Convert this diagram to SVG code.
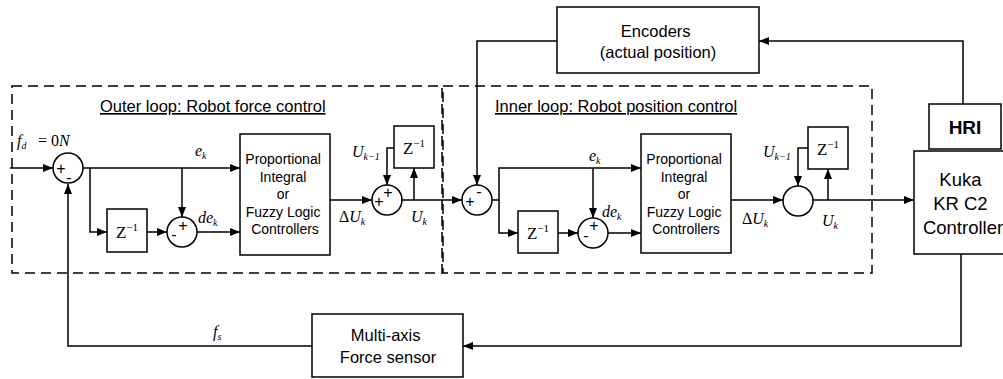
<svg xmlns="http://www.w3.org/2000/svg" width="1003" height="379" viewBox="0 0 1003 379">
<style>
.box{fill:#fff;stroke:#000;stroke-width:1.5}
.sum{fill:#fff;stroke:#000;stroke-width:1.5}
.dash{fill:none;stroke:#000;stroke-width:1.5;stroke-dasharray:10 6}
.ln{fill:none;stroke:#000;stroke-width:1.5}
.t{font-family:"Liberation Sans",Arial,sans-serif;fill:#000}
.m{font-family:"Liberation Serif","Times New Roman",serif;font-style:italic;fill:#000}
.z{font-family:"Liberation Serif","Times New Roman",serif;fill:#000;font-size:17px}
.sg{font-family:"Liberation Sans",Arial,sans-serif;font-size:16px;fill:#000}
</style>
<defs>
<marker id="ah" markerUnits="userSpaceOnUse" markerWidth="11" markerHeight="8" refX="10" refY="4" orient="auto">
<path d="M0,0 L10,4 L0,8 z" fill="#000"/>
</marker>
</defs>
<rect width="1003" height="379" fill="#fff"/>

<g id="outer-loop">
<rect class="dash" x="12" y="86" width="430" height="187"/>
<text class="t" x="100" y="112" font-size="16.5" text-decoration="underline">Outer loop: Robot force control</text>
</g>
<g id="inner-loop">
<rect class="dash" x="443" y="86" width="429" height="187"/>
<text class="t" x="495" y="112" font-size="16.5" text-decoration="underline">Inner loop: Robot position control</text>
</g>

<g id="connectors">
<path class="ln" d="M10,168 H53" marker-end="url(#ah)"/>
<path class="ln" d="M83,168 H240" marker-end="url(#ah)"/>
<path class="ln" d="M90,168 V232 H107" marker-end="url(#ah)"/>
<path class="ln" d="M147,232 H167" marker-end="url(#ah)"/>
<path class="ln" d="M182,168 V217" marker-end="url(#ah)"/>
<path class="ln" d="M197,232 H240" marker-end="url(#ah)"/>
<path class="ln" d="M330,200 H372" marker-end="url(#ah)"/>
<path class="ln" d="M414,200 V168" marker-end="url(#ah)"/>
<path class="ln" d="M394,148 H387 V185" marker-end="url(#ah)"/>
<path class="ln" d="M402,200 H462" marker-end="url(#ah)"/>
<path class="ln" d="M557,41 H477 V185" marker-end="url(#ah)"/>
<path class="ln" d="M492,200 H499 V168 H641" marker-end="url(#ah)"/>
<path class="ln" d="M499,200 V233 H518" marker-end="url(#ah)"/>
<path class="ln" d="M558,233 H578" marker-end="url(#ah)"/>
<path class="ln" d="M593,168 V218" marker-end="url(#ah)"/>
<path class="ln" d="M608,233 H641" marker-end="url(#ah)"/>
<path class="ln" d="M731,200 H783" marker-end="url(#ah)"/>
<path class="ln" d="M828,200 V169" marker-end="url(#ah)"/>
<path class="ln" d="M808,148 H798 V186" marker-end="url(#ah)"/>
<path class="ln" d="M813,200 H914" marker-end="url(#ah)"/>
<path class="ln" d="M963,104 V41 H759" marker-end="url(#ah)"/>
<path class="ln" d="M961,254 V346 H463" marker-end="url(#ah)"/>
<path class="ln" d="M312,346 H68 V184" marker-end="url(#ah)"/>
</g>

<g id="sum1">
<circle class="sum" cx="68" cy="168" r="15"/>
<text class="sg" x="61" y="174" text-anchor="middle">+</text>
<text class="sg" x="69" y="183" text-anchor="middle">-</text>
</g>
<g id="z1">
<rect class="box" x="107" y="209" width="40" height="43"/>
<text class="z" x="127" y="238" text-anchor="middle">Z<tspan font-size="11" dy="-7">−1</tspan></text>
</g>
<g id="sum2">
<circle class="sum" cx="182" cy="232" r="15"/>
<text class="sg" x="174" y="240" text-anchor="middle">-</text>
<text class="sg" x="183" y="231" text-anchor="middle">+</text>
</g>
<g id="pi1">
<rect class="box" x="240" y="134" width="90" height="121"/>
<text class="t" font-size="14" text-anchor="middle">
<tspan x="285" y="164">Proportional</tspan>
<tspan x="285" y="182">Integral</tspan>
<tspan x="285" y="199">or</tspan>
<tspan x="285" y="217">Fuzzy Logic</tspan>
<tspan x="285" y="234">Controllers</tspan>
</text>
</g>
<g id="sum3">
<circle class="sum" cx="387" cy="200" r="15"/>
<text class="sg" x="379" y="207" text-anchor="middle">+</text>
<text class="sg" x="388" y="198" text-anchor="middle">+</text>
</g>
<g id="z2">
<rect class="box" x="394" y="126" width="40" height="42"/>
<text class="z" x="414" y="154" text-anchor="middle">Z<tspan font-size="11" dy="-7">−1</tspan></text>
</g>
<g id="sum4">
<circle class="sum" cx="477" cy="200" r="15"/>
<text class="sg" x="470" y="207" text-anchor="middle">+</text>
<text class="sg" x="479" y="197" text-anchor="middle">-</text>
</g>
<g id="z3">
<rect class="box" x="518" y="211" width="40" height="42"/>
<text class="z" x="538" y="239" text-anchor="middle">Z<tspan font-size="11" dy="-7">−1</tspan></text>
</g>
<g id="sum5">
<circle class="sum" cx="593" cy="233" r="15"/>
<text class="sg" x="586" y="241" text-anchor="middle">-</text>
<text class="sg" x="594" y="231" text-anchor="middle">+</text>
</g>
<g id="pi2">
<rect class="box" x="641" y="134" width="90" height="119"/>
<text class="t" font-size="14" text-anchor="middle">
<tspan x="686" y="164">Proportional</tspan>
<tspan x="686" y="182">Integral</tspan>
<tspan x="686" y="199">or</tspan>
<tspan x="686" y="217">Fuzzy Logic</tspan>
<tspan x="686" y="234">Controllers</tspan>
</text>
</g>
<g id="sum6">
<circle class="sum" cx="798" cy="201" r="15"/>
</g>
<g id="z4">
<rect class="box" x="808" y="127" width="40" height="42"/>
<text class="z" x="828" y="155" text-anchor="middle">Z<tspan font-size="11" dy="-7">−1</tspan></text>
</g>
<g id="encoders">
<rect class="box" x="557" y="7" width="202" height="66"/>
<text class="t" font-size="16.5" text-anchor="middle">
<tspan x="658" y="37">Encoders</tspan>
<tspan x="658" y="58">(actual position)</tspan>
</text>
</g>
<g id="hri">
<rect class="box" x="929" y="104" width="72" height="45" stroke="#444"/>
<text class="t" x="965" y="134" font-size="19" font-weight="bold" text-anchor="middle">HRI</text>
</g>
<g id="kuka">
<rect class="box" x="914" y="151" width="100" height="103"/>
<text class="t" font-size="18.5" text-anchor="middle">
<tspan x="963" y="186">Kuka</tspan>
<tspan x="963" y="210">KR C2</tspan>
<tspan x="963" y="234">Controller</tspan>
</text>
</g>
<g id="force-sensor">
<rect class="box" x="312" y="314" width="151" height="63"/>
<text class="t" font-size="16.5" text-anchor="middle">
<tspan x="388" y="341">Multi-axis</tspan>
<tspan x="388" y="363">Force sensor</tspan>
</text>
</g>

<g id="labels">
<text class="m" x="17" y="146" font-size="16">f<tspan font-size="10" dy="3">d</tspan></text>
<text class="z" x="38" y="146" font-size="16" style="font-size:16px">= 0<tspan font-style="italic">N</tspan></text>
<text class="m" x="195" y="156" font-size="16">e<tspan font-size="10" dy="3">k</tspan></text>
<text class="m" x="198" y="223" font-size="16">de<tspan font-size="10" dy="3">k</tspan></text>
<text class="m" x="339" y="222" font-size="16"><tspan font-style="normal">Δ</tspan>U<tspan font-size="10" dy="3">k</tspan></text>
<text class="m" x="352" y="157" font-size="16">U<tspan font-size="10" dy="3">k−1</tspan></text>
<text class="m" x="411" y="222" font-size="16">U<tspan font-size="10" dy="3">k</tspan></text>
<text class="m" x="589" y="161" font-size="16">e<tspan font-size="10" dy="3">k</tspan></text>
<text class="m" x="602" y="217" font-size="16">de<tspan font-size="10" dy="3">k</tspan></text>
<text class="m" x="742" y="224" font-size="16"><tspan font-style="normal">Δ</tspan>U<tspan font-size="10" dy="3">k</tspan></text>
<text class="m" x="763" y="157" font-size="16">U<tspan font-size="10" dy="3">k−1</tspan></text>
<text class="m" x="822" y="226" font-size="16">U<tspan font-size="10" dy="3">k</tspan></text>
<text class="m" x="213" y="337" font-size="16">f<tspan font-size="10" dy="3">s</tspan></text>
</g>
</svg>
